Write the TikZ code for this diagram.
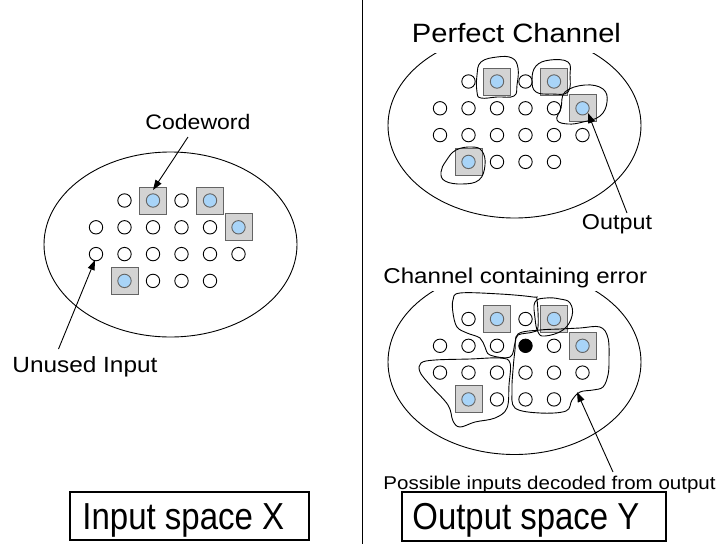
\documentclass[tikz,border=0pt]{standalone}
\usepackage{fontspec}
\usepackage{graphicx}
\setmainfont{Liberation Sans}
\usetikzlibrary{arrows.meta}
\definecolor{boxgray}{RGB}{211,211,211}
\definecolor{boxedge}{RGB}{100,100,100}
\definecolor{cwblue}{RGB}{168,212,248}
\newcommand{\lbl}[4]{\scalebox{#2}[#3]{\fontsize{#1}{#1}\selectfont #4}}
\newcommand{\dotgrid}[4]{%
  \foreach \i/\j/\t in {1/0/c,2/0/b,3/0/c,4/0/b,0/1/c,1/1/c,2/1/c,3/1/#4,4/1/c,5/1/b,0/2/c,1/2/c,2/2/c,3/2/c,4/2/c,5/2/c,1/3/b,2/3/c,3/3/c,4/3/c}{%
    \pgfmathsetmacro\xx{#2-74.5+28.5*\i}%
    \pgfmathsetmacro\yy{#3-44+26.8*\j}%
    \node[dot\t] (#1-\i-\j) at (\xx,\yy) {};
  }%
}
\begin{document}
\begin{tikzpicture}[x=1pt,y=-1pt,line width=0.9pt,
  dotc/.style={circle,draw,fill=white,minimum size=13.4pt,inner sep=0pt,line width=0.9pt},
  dote/.style={dotc,fill=black},
  dotb/.style={rectangle,draw=boxedge,fill=boxgray,minimum size=27pt,inner sep=0pt,line width=1pt,
    path picture={\draw[fill=cwblue,line width=0.9pt] (path picture bounding box.center) circle (6.7pt);}},
  lab/.style={inner sep=0pt,anchor=base west},
  arr/.style={-{Triangle[length=10pt,width=7pt]},line width=0.9pt},
  blob/.style={line width=0.9pt},
  spacebox/.style={draw,line width=1.8pt,inner sep=0pt}]
\useasboundingbox (0,0) rectangle (717,544);
\fill[white] (0,0) rectangle (717,544);
% divider
\draw[line width=0.8pt] (362,0) -- (362,544);
% ellipses
\draw (170.5,244.5) ellipse [x radius=126.5, y radius=92.5];
\draw (514.5,125.5) ellipse [x radius=126.5, y radius=92.5];
\draw (514.5,362) ellipse [x radius=126.5, y radius=92.5];
\fill[white] (405,10) rectangle (630,53);
\fill[white] (376,260) rectangle (652,290.5);
% grids
\dotgrid{L}{170.5}{244.5}{c}
\dotgrid{P}{514.5}{125.5}{c}
\dotgrid{E}{514.5}{363}{e}
% blobs, perfect channel
\draw[blob] plot[smooth cycle,tension=0.7] coordinates {(481,62) (497,57) (512,58) (518,68) (517,85) (514,96) (497,97) (481,98) (477,92) (477,75)};
\draw[blob] plot[smooth cycle,tension=0.7] coordinates {(536,66) (550,60) (568,62) (570,75) (568,92) (552,94) (536,92) (532,80)};
\draw[blob] plot[smooth cycle,tension=0.7] coordinates {(565,92) (585,85) (603,89) (607,102) (600,116) (583,122) (568,124) (557,120) (561,108)};
\draw[blob] plot[smooth cycle,tension=0.7] coordinates {(446,161) (456,150) (472,147) (482,151) (485,165) (479,180) (462,184) (445,181) (441,172)};
% blobs, channel containing error
\draw[blob] plot[smooth cycle,tension=0.6] coordinates {(460,293) (500,294) (533,297) (537,300) (538,327) (533,332) (518,335) (515,343) (510,357) (490,355) (485,347) (480,338) (467,333) (457,327) (453,313) (453,300)};
\draw[blob] plot[smooth cycle,tension=0.7] coordinates {(535,302) (546,298) (560,299) (570,303) (572,316) (563,330) (545,336) (538,332) (535,318)};
\draw[blob] plot[smooth cycle,tension=0.6] coordinates {(518,334) (540,330) (560,329) (580,328) (600,327) (608,338) (609,360) (608,375) (603,387) (593,390) (580,392) (572,400) (566,411) (540,413) (515,408) (512,390) (513,370) (515,350)};
\draw[blob] plot[smooth cycle,tension=0.6] coordinates {(421,363) (435,360) (470,359) (500,358) (510,363) (509,385) (507,408) (495,418) (475,422) (460,427) (453,421) (448,405) (430,385) (420,372)};
% labels
\node[lab] (cw) at (145,129.5) {\lbl{21}{1.097}{1}{Codeword}};
\node[lab] (un) at (12,372.5) {\lbl{22}{1.108}{1}{Unused Input}};
\node[lab] (pc) at (411.5,42.3) {\lbl{26.5}{1.10}{1}{Perfect Channel}};
\node[lab] (out) at (581.5,229) {\lbl{21.5}{1.085}{1}{Output}};
\node[lab] (ce) at (383,283) {\lbl{21.5}{1.12}{1}{Channel containing error}};
\node[lab] (pi) at (383,489.5) {\lbl{18.5}{1.11}{1}{Possible inputs decoded from output}};
% arrows
\coordinate (cwtail) at (188,137);
\coordinate (cwtip) at (153,190);
\coordinate (untail) at (58.5,349);
\coordinate (untip) at (95,260);
\coordinate (outtail) at (627,213);
\coordinate (outtip) at (588,113);
\coordinate (pitail) at (613,472);
\coordinate (pitip) at (577,392);
\draw[arr] (cwtail) -- (cwtip);
\draw[arr] (untail) -- (untip);
\draw[arr] (outtail) -- (outtip);
\draw[arr] (pitail) -- (pitip);
% space boxes
\node[spacebox,minimum width=239pt,minimum height=48pt] (ibox) at (189.5,516) {};
\node[lab] (itext) at (82,529.3) {\lbl{33}{1}{1.14}{Input space X}};
\node[spacebox,minimum width=264pt,minimum height=49pt] (obox) at (533.8,516.3) {};
\node[lab] (otext) at (412,529.8) {\lbl{32.9}{1}{1.14}{Output space Y}};
\end{tikzpicture}
\end{document}
